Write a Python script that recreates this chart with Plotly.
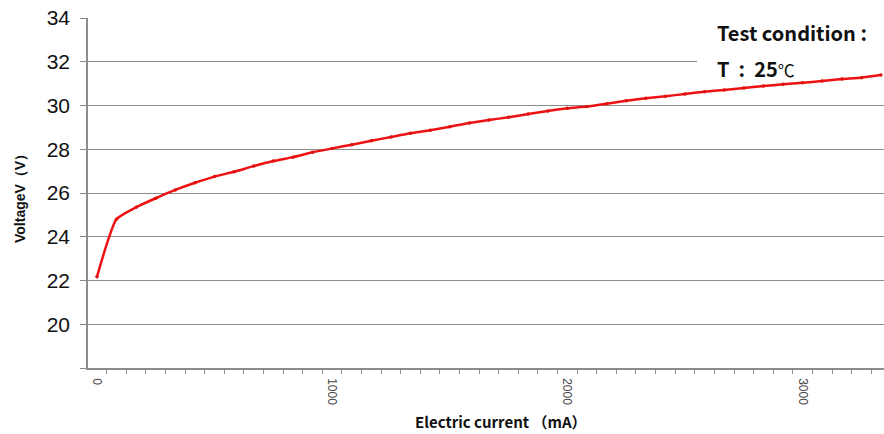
import plotly.graph_objects as go

current_ma = [0, 83, 167, 250, 333, 417, 500, 583, 667, 750, 833, 917, 1000, 1083, 1167,
              1250, 1333, 1417, 1500, 1583, 1667, 1750, 1833, 1917, 2000, 2083, 2167, 2250,
              2333, 2417, 2500, 2583, 2667, 2750, 2833, 2917, 3000, 3083, 3167, 3250, 3333]
voltage_v = [22.17, 24.80, 25.35, 25.76, 26.14, 26.47, 26.75, 26.97, 27.23, 27.46, 27.64,
             27.86, 28.04, 28.21, 28.39, 28.56, 28.73, 28.87, 29.03, 29.20, 29.34, 29.46,
             29.61, 29.75, 29.87, 29.95, 30.08, 30.22, 30.33, 30.42, 30.53, 30.63, 30.71,
             30.80, 30.89, 30.97, 31.04, 31.12, 31.21, 31.27, 31.39]
x_tick_vals = [0, 1000, 2000, 3000]
y_tick_vals = [18, 20, 22, 24, 26, 28, 30, 32, 34]
y_tick_text = ["", "20", "22", "24", "26", "28", "30", "32", "34"]

fig = go.Figure()
fig.add_trace(go.Scatter(
    x=current_ma, y=voltage_v, mode="lines+markers",
    line=dict(color="#ee1111", width=2.5, shape="spline", smoothing=0.5),
    marker=dict(color="#e01010", size=3.5),
    showlegend=False, hoverinfo="x+y",
))

fig.update_layout(
    width=884, height=434,
    margin=dict(l=88, r=0, t=18, b=66),
    paper_bgcolor="white", plot_bgcolor="white",
    font=dict(family="Liberation Sans, Arial, sans-serif", color="#111"),
    xaxis=dict(
        range=[-38, 3346], tickvals=x_tick_vals, ticktext=[str(v) for v in x_tick_vals],
        tickangle=90, ticks="", ticklabelstandoff=6,
        tickfont=dict(size=12, color="#444", family="Liberation Sans, Arial"),
        showgrid=False, zeroline=False,
        showline=True, linecolor="#8c8c8c", linewidth=1.5,
        minor=dict(tick0=-41.67, dtick=83.333, ticks="outside", ticklen=4,
                   tickcolor="#8c8c8c", tickwidth=1, showgrid=False),
    ),
    yaxis=dict(
        range=[18, 34], tickvals=y_tick_vals, ticktext=y_tick_text,
        ticks="outside", ticklen=6, tickcolor="#8c8c8c", tickwidth=1,
        tickfont=dict(size=21, color="#111", family="Liberation Sans, Arial"),
        ticklabelstandoff=6,
        showgrid=True, gridcolor="#8c8c8c", gridwidth=1.2,
        zeroline=False, showline=True, linecolor="#8c8c8c", linewidth=1.5,
    ),
    shapes=[dict(type="rect", xref="paper", yref="paper", layer="above",
                 x0=(697 - 88) / 796, x1=1.0, y0=(368 - 70) / 350, y1=1.06,
                 fillcolor="white", line=dict(width=0))],
    annotations=[
        dict(text="<b>VoltageV（V）</b>", xref="paper", yref="paper",
             x=-(88 - 20) / 796, y=(368 - 195) / 350, textangle=-90, showarrow=False,
             font=dict(size=14, family="Liberation Sans, Arial", color="#111"),
             xanchor="center", yanchor="middle"),
        dict(text="<b>Electric current （mA）</b>", xref="paper", yref="paper",
             x=(501 - 88) / 796, y=-(421 - 368) / 350, showarrow=False,
             font=dict(size=15, family="Noto Sans CJK SC", color="#111"),
             xanchor="center", yanchor="middle"),
        dict(text="<b>Test condition :</b>", xref="paper", yref="paper",
             x=(715 - 88) / 796, y=(368 - 33) / 350, showarrow=False,
             font=dict(size=20, family="Noto Sans CJK SC", color="#111"),
             xanchor="left", yanchor="middle"),
        dict(text="<b>T&nbsp; :&nbsp; 25</b><span style='font-size:17px'>℃</span>",
             xref="paper", yref="paper",
             x=(715 - 88) / 796, y=(368 - 68) / 350, showarrow=False,
             font=dict(size=20, family="Noto Sans CJK SC", color="#111"),
             xanchor="left", yanchor="middle"),
    ],
)

fig.write_html("out.html")
